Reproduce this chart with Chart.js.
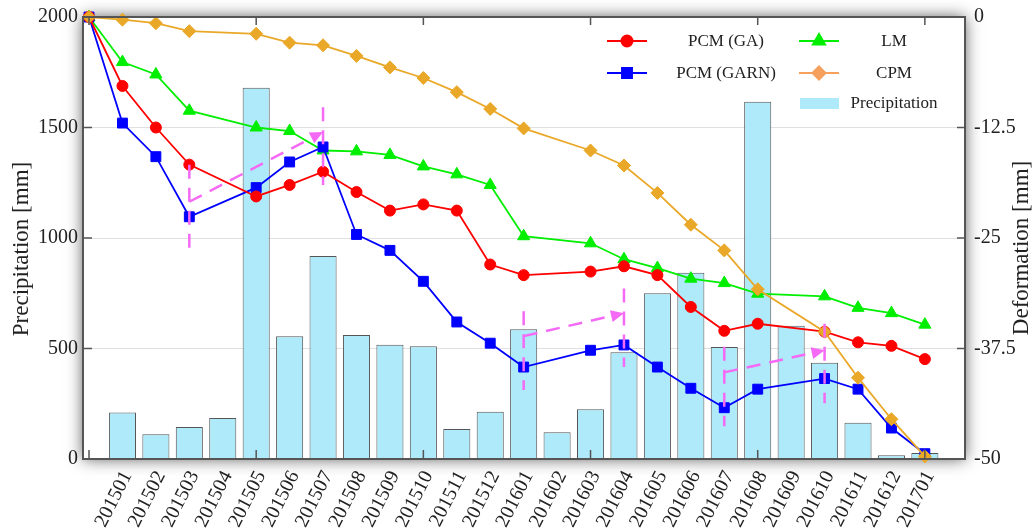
<!DOCTYPE html>
<html>
<head>
<script src="https://cdn.jsdelivr.net/npm/chart.js@4.4.1/dist/chart.umd.min.js"></script>
<style>
	body { margin: 0; background: #fff; }
	#wrapper { width: 1034px; height: 531px; }
</style>
</head>
<body>
<div id="wrapper"><canvas id="myChart" width="1034" height="531"></canvas></div>
<script>
// months on the x axis (x index 1..25, index 0 is the starting point)
var months = ['201501','201502','201503','201504','201505','201506','201507','201508','201509','201510','201511','201512',
	'201601','201602','201603','201604','201605','201606','201607','201608','201609','201610','201611','201612','201701'];
// monthly precipitation [mm], left axis
var precipitation = [210,112,145,186,1680,555,918,561,517,510,136,214,587,121,225,483,750,843,507,1617,603,436,164,17,27];
// deformation [mm], right axis; first value = start, null = no survey that month
var pcmGA   = [0,-7.8,-12.5,-16.7,null,-20.3,-19.0,-17.5,-19.8,-21.9,-21.2,-21.9,-28.0,-29.2,null,-28.8,-28.2,-29.2,-32.8,-35.5,-34.7,null,-35.6,-36.8,-37.2,-38.7];
var pcmGARN = [0,-12.0,-15.8,-22.6,null,-19.3,-16.4,-14.7,-24.6,-26.4,-29.9,-34.5,-36.9,-39.6,null,-37.7,-37.1,-39.6,-42.0,-44.2,-42.1,null,-40.9,-42.1,-46.5,-49.4];
var lm      = [0,-5.1,-6.5,-10.6,null,-12.5,-12.9,-15.1,-15.2,-15.6,-16.9,-17.8,-19.0,-24.8,null,-25.6,-27.4,-28.4,-29.6,-30.1,-31.3,null,-31.6,-32.9,-33.5,-34.8];
var cpm     = [0,-0.3,-0.7,-1.6,null,-1.9,-2.9,-3.2,-4.4,-5.7,-6.9,-8.5,-10.4,-12.6,null,-15.1,-16.8,-19.9,-23.5,-26.4,-30.8,null,-35.6,-40.8,-45.5,-49.7];
// dashed trend arrows (x index, deformation): start, tip, and the two vertical markers
var arrows = [
	{ x1: 3,  y1: -20.9, x2: 7,  y2: -13.0, v1: [-16.7, -26.6], v2: [-10.2, -19.0] },
	{ x1: 13, y1: -36.1, x2: 16, y2: -33.5, v1: [-33.3, -42.2], v2: [-30.7, -39.6] },
	{ x1: 19, y1: -40.2, x2: 22, y2: -37.7, v1: [-37.3, -46.3], v2: [-34.7, -43.7] }
];

var SERIF = "'Liberation Serif', 'Times New Roman', serif";
Chart.defaults.font.family = SERIF;
Chart.defaults.color = '#222';

function toPoints(arr, start) {
	return arr.map(function(v, i){ return { x: i + start, y: v }; });
}
function lineSet(label, arr, color, style, radius, order) {
	return {
		type: 'line', label: label, data: toPoints(arr, 0), yAxisID: 'y2',
		borderColor: color, backgroundColor: color, borderWidth: 1.8,
		pointStyle: style, pointRadius: radius, pointBorderWidth: 1,
		pointBorderColor: color, pointBackgroundColor: color,
		spanGaps: true, clip: false, order: order
	};
}
function plain(v) { return String(v); }

var frame = {
	id: 'frame',
	beforeDraw: function(chart) {
		var ctx = chart.ctx, a = chart.chartArea;
		ctx.save();
		ctx.shadowColor = 'rgba(0,0,0,0.65)';
		ctx.shadowBlur = 15;
		ctx.fillStyle = '#fff';
		ctx.fillRect(a.left, a.top, a.right - a.left, a.bottom - a.top);
		ctx.restore();
	},
	afterDatasetsDraw: function(chart) {
		var ctx = chart.ctx, a = chart.chartArea;
		var xs = chart.scales.x, ys = chart.scales.y, y2 = chart.scales.y2;
		// trend arrows
		ctx.save();
		ctx.strokeStyle = '#f56af5';
		ctx.fillStyle = '#f56af5';
		ctx.lineWidth = 2.5;
		ctx.setLineDash([14, 9]);
		arrows.forEach(function(ar) {
			var ax = xs.getPixelForValue(ar.x1), ay = y2.getPixelForValue(ar.y1);
			var bx = xs.getPixelForValue(ar.x2), by = y2.getPixelForValue(ar.y2);
			ctx.beginPath();
			ctx.moveTo(ax, y2.getPixelForValue(ar.v1[0])); ctx.lineTo(ax, y2.getPixelForValue(ar.v1[1]));
			ctx.moveTo(bx, y2.getPixelForValue(ar.v2[0])); ctx.lineTo(bx, y2.getPixelForValue(ar.v2[1]));
			var ang = Math.atan2(by - ay, bx - ax), hl = 13;
			ctx.moveTo(ax, ay); ctx.lineTo(bx - hl * Math.cos(ang), by - hl * Math.sin(ang));
			ctx.stroke();
			ctx.beginPath();
			ctx.moveTo(bx, by);
			ctx.lineTo(bx - hl * Math.cos(ang) + 6 * Math.sin(ang), by - hl * Math.sin(ang) - 6 * Math.cos(ang));
			ctx.lineTo(bx - hl * Math.cos(ang) - 6 * Math.sin(ang), by - hl * Math.sin(ang) + 6 * Math.cos(ang));
			ctx.closePath();
			ctx.fill();
		});
		ctx.restore();
		// frame + inward ticks
		ctx.save();
		ctx.strokeStyle = '#555';
		ctx.lineWidth = 2;
		ctx.strokeRect(a.left, a.top, a.right - a.left, a.bottom - a.top);
		ctx.lineWidth = 1.5;
		ctx.beginPath();
		for (var i = 0; i <= months.length; i += 5) {
			var px = xs.getPixelForValue(i);
			ctx.moveTo(px, a.bottom); ctx.lineTo(px, a.bottom - 9);
			ctx.moveTo(px, a.top); ctx.lineTo(px, a.top + 8);
		}
		ys.ticks.forEach(function(t) {
			var py = ys.getPixelForValue(t.value);
			if (t.value > 0 && t.value < 2000) { ctx.moveTo(a.left, py); ctx.lineTo(a.left + 9, py); }
		});
		y2.ticks.forEach(function(t) {
			var py = y2.getPixelForValue(t.value);
			if (t.value < 0 && t.value > -50) { ctx.moveTo(a.right - 8, py); ctx.lineTo(a.right, py); }
		});
		ctx.stroke();
		ctx.restore();
	},
	afterDraw: function(chart) {
		var ctx = chart.ctx, ds = chart.data.datasets;
		// axis titles, both read bottom to top
		ctx.save();
		ctx.fillStyle = '#222';
		ctx.font = '23px ' + SERIF;
		ctx.textAlign = 'center';
		ctx.textBaseline = 'middle';
		[[22, 249, 'Precipitation [mm]'], [1022, 248, 'Deformation [mm]']].forEach(function(t) {
			ctx.save(); ctx.translate(t[0], t[1]); ctx.rotate(-Math.PI / 2); ctx.fillText(t[2], 0, 0); ctx.restore();
		});
		ctx.restore();
		// legend, two columns
		var items = [
			{ d: ds[1], x: 627, y: 41, tx: 726 },
			{ d: ds[2], x: 627, y: 73, tx: 726 },
			{ d: ds[3], x: 819, y: 41, tx: 894 },
			{ d: ds[4], x: 819, y: 73, tx: 894, color: '#f5a05c' }
		];
		ctx.save();
		ctx.font = '17px ' + SERIF;
		ctx.textAlign = 'center';
		ctx.textBaseline = 'middle';
		items.forEach(function(it) {
			var c = it.color || it.d.borderColor;
			ctx.strokeStyle = c; ctx.fillStyle = c; ctx.lineWidth = 2;
			ctx.beginPath(); ctx.moveTo(it.x - 20, it.y); ctx.lineTo(it.x + 20, it.y); ctx.stroke();
			Chart.helpers.drawPoint(ctx, { pointStyle: it.d.pointStyle, radius: it.d.pointRadius, rotation: 0, borderWidth: 1 }, it.x, it.y);
			ctx.fillStyle = '#222';
			ctx.fillText(it.d.label, it.tx, it.y + 1);
		});
		ctx.fillStyle = ds[0].backgroundColor;
		ctx.fillRect(800, 98, 39, 11);
		ctx.fillStyle = '#222';
		ctx.fillText(ds[0].label, 894, 104);
		ctx.restore();
	}
};

var ctx = document.getElementById('myChart');
var myChart = new Chart(ctx, {
	data: {
		datasets: [
			{
				type: 'bar', label: 'Precipitation', data: toPoints(precipitation, 1), yAxisID: 'y',
				backgroundColor: '#aeeaf9', borderColor: '#555', borderWidth: 1,
				categoryPercentage: 0.9, barPercentage: 0.9, order: 10
			},
			lineSet('PCM (GA)', pcmGA, '#ff0000', 'circle', 5.5, 2),
			lineSet('PCM (GARN)', pcmGARN, '#0000ff', 'rect', 7, 3),
			lineSet('LM', lm, '#00ee00', 'triangle', 7, 4),
			lineSet('CPM', cpm, '#eaa828', 'rectRot', 6.5, 1)
		]
	},
	plugins: [frame],
	options: {
		responsive: false,
		animation: false,
		devicePixelRatio: 1,
		layout: { padding: { top: 17, left: 0, right: 0, bottom: 0 } },
		plugins: { legend: { display: false }, tooltip: { enabled: false } },
		scales: {
			x: {
				type: 'linear', min: -0.18, max: 26.2, offset: false,
				grid: { display: false, offset: false }, border: { display: false },
				ticks: {
					stepSize: 1, autoSkip: false, includeBounds: false,
					minRotation: 63, maxRotation: 63, labelOffset: 5, padding: 0,
					font: { size: 20 }, color: '#222',
					callback: function(v) { return months[v - 1] || ''; }
				},
				afterFit: function(s) { s.height = 72; }
			},
			y: {
				position: 'left', min: 0, max: 2000,
				grid: { color: '#e0e0e0', drawTicks: false }, border: { display: false },
				ticks: { stepSize: 500, padding: 5, font: { size: 20 }, color: '#222', callback: plain },
				afterFit: function(s) { s.width = 83; }
			},
			y2: {
				position: 'right', min: -50, max: 0,
				grid: { display: false }, border: { display: false },
				ticks: { stepSize: 12.5, padding: 1, font: { size: 20 }, color: '#222', callback: plain },
				afterFit: function(s) { s.width = 69; }
			}
		}
	}
});
</script>
</body>
</html>
